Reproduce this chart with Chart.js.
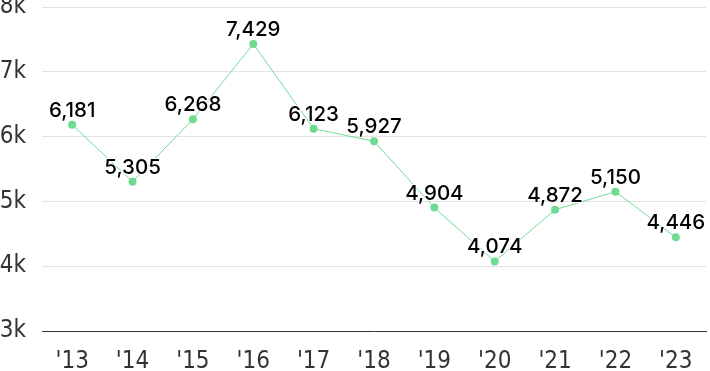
<!DOCTYPE html>
<html><head><meta charset="utf-8">
<script src="https://cdn.jsdelivr.net/npm/chart.js@4"></script>
<style>html,body{margin:0;padding:0;background:#fff;}canvas{display:block;}</style>
</head><body>
<canvas id="c" width="710" height="371"></canvas>
<script>
const categories = ["'13","'14","'15","'16","'17","'18","'19","'20","'21","'22","'23"];
const values = [6181,5305,6268,7429,6123,5927,4904,4074,4872,5150,4446];
const yTicks = [3000,4000,5000,6000,7000,8000];

const labelPlugin = {
  id: 'vlabels',
  afterDatasetsDraw(chart) {
    const ctx = chart.ctx;
    const meta = chart.getDatasetMeta(0);
    ctx.save();
    ctx.font = '500 20.5px Inter';
    ctx.textAlign = 'center';
    ctx.textBaseline = 'alphabetic';
    meta.data.forEach((pt, i) => {
      const txt = values[i].toLocaleString('en-US');
      ctx.lineWidth = 2;
      ctx.strokeStyle = '#fff';
      ctx.lineJoin = 'round';
      ctx.strokeText(txt, pt.x, pt.y - 8);
      ctx.fillStyle = '#000';
      ctx.fillText(txt, pt.x, pt.y - 8);
    });
    ctx.restore();
  }
};

const tickFont = { family: "'Liberation Sans Narrow', 'DejaVu Sans Condensed'", size: 24 };

new Chart(document.getElementById('c'), {
  type: 'line',
  data: {
    labels: categories,
    datasets: [{
      data: values,
      borderColor: '#6edb93',
      backgroundColor: '#6edb93',
      borderWidth: 1,
      pointRadius: 4,
      pointBorderWidth: 0,
      tension: 0
    }]
  },
  options: {
    responsive: false,
    animation: false,
    layout: { padding: 0 },
    plugins: { legend: { display: false }, tooltip: { enabled: false } },
    scales: {
      x: {
        offset: true,
        grid: { display: false, drawTicks: false },
        border: { display: true, color: '#333', width: 1 },
        ticks: { font: tickFont, color: '#333', padding: 16, maxRotation: 0 },
        afterFit(scale) { scale.height = 40; scale.paddingRight = 0; scale.paddingLeft = 0; }
      },
      y: {
        min: 3000, max: 8000,
        afterBuildTicks(scale) { scale.ticks = yTicks.map(v => ({ value: v })); },
        afterFit(scale) { scale.width = 42; scale.paddingTop = 7; scale.paddingBottom = 0; },
        grid: { color: '#e3e3e3', drawTicks: false },
        border: { display: false },
        ticks: {
          font: tickFont, color: '#333', padding: 16,
          callback: v => (v / 1000) + 'k'
        }
      }
    }
  },
  plugins: [labelPlugin]
});
</script>
</body></html>
